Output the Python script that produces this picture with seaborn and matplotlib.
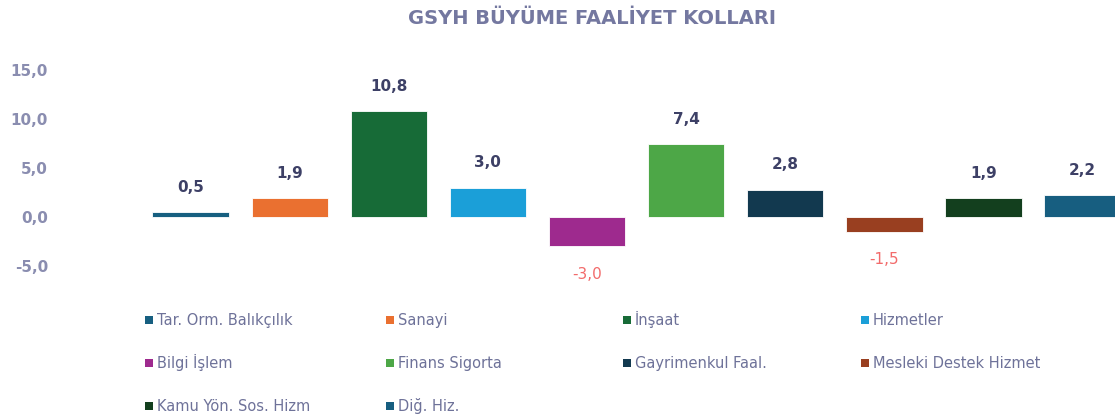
import pandas as pd
import matplotlib
matplotlib.use("Agg")
import matplotlib.pyplot as plt
import seaborn as sns
from matplotlib.patches import Rectangle

# veriler
kategoriler = ["Tar. Orm. Balıkçılık", "Sanayi", "İnşaat", "Hizmetler", "Bilgi İşlem",
               "Finans Sigorta", "Gayrimenkul Faal.", "Mesleki Destek Hizmet",
               "Kamu Yön. Sos. Hizm", "Diğ. Hiz."]
buyume = [0.5, 1.9, 10.8, 3.0, -3.0, 7.4, 2.8, -1.5, 1.9, 2.2]
renkler = ["#175f80", "#ea7030", "#176b37", "#1b9fd8", "#9e2a8e",
           "#4da747", "#12394f", "#993f20", "#133f1e", "#175e80"]
y_ticks = [-5, 0, 5, 10, 15]

sns.set_style("white")
plt.rcParams['font.family'] = ['DejaVu Sans']

W, H = 1115, 419
fig = plt.figure(figsize=(W / 100, H / 100), dpi=100)
ax = fig.add_axes([141 / W, 153 / H, 1 - 141 / W, 196 / H])

df = pd.DataFrame({'kategori': kategoriler, 'deger': buyume})
sns.barplot(data=df, x='kategori', y='deger', hue='kategori', palette=renkler,
            saturation=1, width=0.77, legend=False, ax=ax, edgecolor='white', linewidth=0.6)

ax.set_xlim(-0.5, 9.327)
ax.set_ylim(-5, 15)
ax.set_yticks(y_ticks)
ax.set_yticklabels([f"{t:.1f}".replace('.', ',') for t in y_ticks],
                   color='#8a8db0', fontweight='bold', fontsize=11)
ax.tick_params(axis='y', length=0, pad=67)
ax.set_xticks([])
ax.set_xlabel('')
ax.set_ylabel('')
for s in ax.spines.values():
    s.set_visible(False)

# etiketler
for i, v in enumerate(buyume):
    txt = f"{v:.1f}".replace('.', ',')
    if v >= 0:
        ax.annotate(txt, (i, v), xytext=(0, 18), textcoords='offset points',
                    ha='center', va='center', fontsize=11, fontweight='bold', color='#3d4066')
    else:
        ax.annotate(txt, (i, v), xytext=(0, -20), textcoords='offset points',
                    ha='center', va='center', fontsize=11, color='#f26b6b')

fig.text(592 / W, 1 - 18 / H, "GSYH BÜYÜME FAALİYET KOLLARI", ha='center', va='center',
         fontsize=14, fontweight='bold', color='#7478a0')

# legend - 4 kolon, satir bazli (elle dizildi)
kolon_x = [145, 386, 623, 861]
satir_y = [320, 363, 406]
kare = 8
for i, (ad, renk) in enumerate(zip(kategoriler, renkler)):
    x0 = kolon_x[i % 4]
    y0 = satir_y[i // 4]
    fig.patches.append(Rectangle((x0 / W, 1 - (y0 + kare / 2) / H), kare / W, kare / H,
                                 transform=fig.transFigure, facecolor=renk, edgecolor='none'))
    fig.text((x0 + kare + 4) / W, 1 - (y0 + 5) / H, ad, ha='left', va='baseline',
             fontsize=10.5, color='#6e7299')

fig.savefig("out.png", dpi=100)
